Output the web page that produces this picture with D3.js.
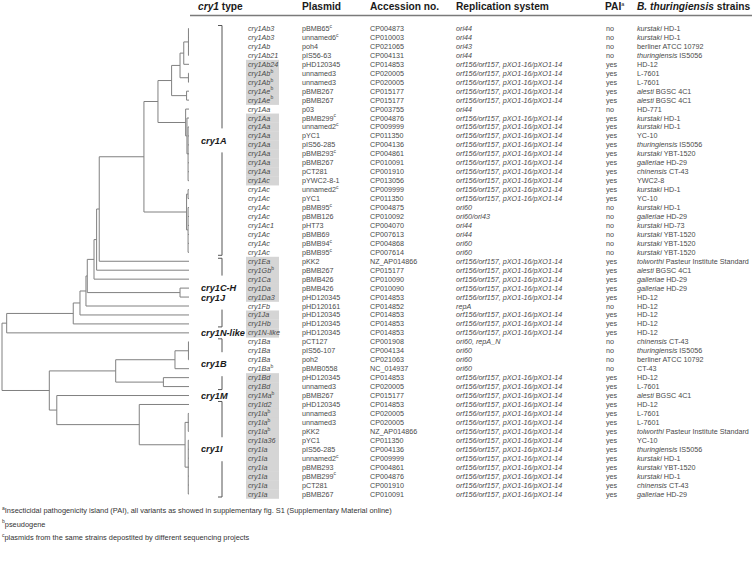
<!DOCTYPE html>
<html><head><meta charset="utf-8">
<script src="https://cdn.jsdelivr.net/npm/d3@7"></script>
<style>
body{margin:0;background:#fff;}
svg{display:block;font-family:"Liberation Sans",Arial,sans-serif;}
</style></head>
<body><svg id="c" width="752" height="570"></svg>
<script>
const ORF = "orf156/orf157, pXO1-16/pXO1-14";
const cry1Types = ["cry1Ab3","cry1Ab3","cry1Ab","cry1Ab21","cry1Ab24","cry1Ab","cry1Ab","cry1Ae","cry1Ae","cry1Aa",
 "cry1Aa","cry1Aa","cry1Aa","cry1Aa","cry1Aa","cry1Aa","cry1Aa","cry1Ac","cry1Ac","cry1Ac",
 "cry1Ac","cry1Ac","cry1Ac1","cry1Ac","cry1Ac","cry1Ac","cry1Ea","cry1Gb","cry1Ca","cry1Da",
 "cry1Da3","cry1Fb","cry1Ja","cry1Hb","cry1N-like","cry1Ba","cry1Ba","cry1Ba","cry1Ba","cry1Bd",
 "cry1Bd","cry1Ma","cry1Id2","cry1Ia","cry1Ia","cry1Ia","cry1Ia36","cry1Ia","cry1Ia","cry1Ia",
 "cry1Ia","cry1Ia","cry1Ia"];
const typeNotes = ["","","","","","b","b","b","b","",
 "","","","","","","","","","",
 "","","","","","","","b","","",
 "","","","","","","","","b","",
 "","b","","b","b","b","","","","",
 "","",""];
const plasmids = ["pBMB65","unnamed6","poh4","pIS56-63","pHD120345","unnamed3","unnamed3","pBMB267","pBMB267","p03",
 "pBMB299","unnamed2","pYC1","pIS56-285","pBMB293","pBMB267","pCT281","pYWC2-8-1","unnamed2","pYC1",
 "pBMB95","pBMB126","pHT73","pBMB69","pBMB94","pBMB95","pKK2","pBMB267","pBMB426","pBMB426",
 "pHD120345","pHD120161","pHD120345","pHD120345","pHD120345","pCT127","pIS56-107","poh2","pBMB0558","pHD120345",
 "unnamed3","pBMB267","pHD120345","unnamed3","unnamed3","pKK2","pYC1","pIS56-285","unnamed2","pBMB293",
 "pBMB299","pCT281","pBMB267"];
const plasmidNotes = ["c","c","","","","","","","","",
 "c","c","","","c","","","","c","",
 "c","","","","c","c","","","","",
 "","","","","","","","","","",
 "","","","","","","","","c","",
 "c","",""];
const accessions = ["CP004873","CP010003","CP021065","CP004131","CP014853","CP020005","CP020005","CP015177","CP015177","CP003755",
 "CP004876","CP009999","CP011350","CP004136","CP004861","CP010091","CP001910","CP013056","CP009999","CP011350",
 "CP004875","CP010092","CP004070","CP007613","CP004868","CP007614","NZ_AP014866","CP015177","CP010090","CP010090",
 "CP014853","CP014852","CP014853","CP014853","CP014853","CP001908","CP004134","CP021063","NC_014937","CP014853",
 "CP020005","CP015177","CP014853","CP020005","CP020005","NZ_AP014866","CP011350","CP004136","CP009999","CP004861",
 "CP004876","CP001910","CP010091"];
const replication = ["ori44","ori44","ori43","ori44",ORF,ORF,ORF,ORF,ORF,"ori44",
 ORF,ORF,ORF,ORF,ORF,ORF,ORF,ORF,ORF,ORF,
 "ori60","ori60/ori43","ori44","ori44","ori60","ori60",ORF,ORF,ORF,ORF,
 ORF,"repA",ORF,ORF,ORF,"ori60, repA_N","ori60","ori60","ori60",ORF,
 ORF,ORF,ORF,ORF,ORF,ORF,ORF,ORF,ORF,ORF,
 ORF,ORF,ORF];
const pai = ["no","no","no","no","yes","yes","yes","yes","yes","no",
 "yes","yes","yes","yes","yes","yes","yes","yes","yes","yes",
 "no","no","no","no","no","no","yes","yes","yes","yes",
 "yes","no","yes","yes","yes","no","no","no","no","yes",
 "yes","yes","yes","yes","yes","yes","yes","yes","yes","yes",
 "yes","yes","yes"];
const strainSubsp = ["kurstaki","kurstaki","","thuringiensis","","","","alesti","alesti","",
 "kurstaki","kurstaki","","thuringiensis","kurstaki","galleriae","chinensis","","kurstaki","",
 "kurstaki","galleriae","kurstaki","kurstaki","kurstaki","kurstaki","tolworthi","alesti","galleriae","galleriae",
 "","","","","","chinensis","thuringiensis","","","",
 "","alesti","","","","tolworthi","","thuringiensis","kurstaki","kurstaki",
 "kurstaki","chinensis","galleriae"];
const strainName = ["HD-1","HD-1","berliner ATCC 10792","IS5056","HD-12","L-7601","L-7601","BGSC 4C1","BGSC 4C1","HD-771",
 "HD-1","HD-1","YC-10","IS5056","YBT-1520","HD-29","CT-43","YWC2-8","HD-1","YC-10",
 "HD-1","HD-29","HD-73","YBT-1520","YBT-1520","YBT-1520","Pasteur Institute Standard","BGSC 4C1","HD-29","HD-29",
 "HD-12","HD-12","HD-12","HD-12","HD-12","CT-43","IS5056","berliner ATCC 10792","CT-43","HD-12",
 "L-7601","BGSC 4C1","HD-12","L-7601","L-7601","Pasteur Institute Standard","YC-10","IS5056","HD-1","YBT-1520",
 "HD-1","CT-43","HD-29"];
// cry gene located in the PAI (shaded cells)
const inPAI = [0,0,0,0,1,1,1,1,1,0, 1,1,1,1,1,1,1,1,0,0, 0,0,0,0,0,0,1,1,1,1,
 1,0,1,1,1,0,0,0,0,1, 1,1,1,1,1,1,1,1,1,1, 1,1,1];

// dendrogram: internal nodes carry divergence d (root 0, tips 100); leaves are row numbers
const tree = {d:0, c:[
  {d:2.5, c:[
    {d:38.1, c:[
      {d:41.7, c:[
        {d:44.9, c:[
          {d:45.6, c:[
            {d:49.2, c:[
              {d:50.6, c:[
                {d:52.0, c:[
                  {d:75.9, c:[
                    {d:83.4, c:[
                      {d:90.7, c:[
                        {d:95.2, c:[
                          {d:97.2, c:[{d:99.7, c:[1,2,3,4]}, 5]},
                          {d:99.7, c:[6,7]}]},
                        {d:98.7, c:[8,9]}]},
                      {d:98.2, c:[10, {d:98.9, c:[11, {d:99.5, c:[12,13,14,15,16,17,18]}]}]}]},
                    {d:98.7, c:[{d:99.5, c:[19,20]}, {d:99.5, c:[21,22,23,24,25,26]}]}]},
                  27]},
                28]},
              29]},
            {d:95.2, c:[30,31]}]},
          32]},
        33]},
      34]},
    35]},
  {d:25.3, c:[
    {d:60.8, c:[
      {d:92.5, c:[{d:99.7, c:[36,37,38]}, 39]},
      {d:86.3, c:[40,41]}]},
    {d:29.3, c:[
      42,
      {d:73.4, c:[43, {d:97.9, c:[{d:99.6, c:[44,45,46]}, {d:99.6, c:[47,48,49,50,51,52,53]}]}]}]}]}]};

const groups = [
  {labels:["cry1A"], from:1, to:26, bracket:true},
  {labels:["cry1C-H","cry1J"], from:27, to:34, bracket:true},
  {labels:["cry1N-like"], from:35, to:35, bracket:false},
  {labels:["cry1B"], from:36, to:41, bracket:true},
  {labels:["cry1M"], from:42, to:42, bracket:false},
  {labels:["cry1I"], from:43, to:53, bracket:true}
];
const footnotes = [
  ["a","Insecticidal pathogenicity island (PAI), all variants as showed in supplementary fig. S1 (Supplementary Material online)"],
  ["b","pseudogene"],
  ["c","plasmids from the same strains depostited by different sequencing projects"]
];

const svg = d3.select("#c");
const N = cry1Types.length;
const y = d3.scaleLinear().domain([1, N]).range([28.5, 494]);
const rowH = y(2) - y(1);
const x = d3.scaleLinear().domain([0, 100]).range([2, 189]);
const col = {type:248, plasmid:302, acc:370, rep:456, pai:606, strain:637};
const TXT = "#4a4a4a", FS = 7.2;

// shading
const sh = svg.append("g");
d3.range(N).forEach(i => {
  if (inPAI[i]) sh.append("rect").attr("x", 246).attr("width", 33)
    .attr("y", y(i+1) - rowH/2).attr("height", rowH + 0.3).attr("fill", "#d5d5d5");
});

// header
const hd = svg.append("g").attr("font-weight","bold").attr("font-size",10.2).attr("fill","#1a1a1a");
const h1 = hd.append("text").attr("x",198).attr("y",10);
h1.append("tspan").attr("font-style","italic").text("cry1");
h1.append("tspan").text(" type");
hd.append("text").attr("x",col.plasmid).attr("y",10).text("Plasmid");
hd.append("text").attr("x",col.acc).attr("y",10).text("Accession no.");
hd.append("text").attr("x",col.rep).attr("y",10).text("Replication system");
const hp = hd.append("text").attr("x",col.pai-1).attr("y",10);
hp.append("tspan").text("PAI");
hp.append("tspan").attr("font-size",5.5).attr("font-weight","normal").attr("dy",-4).text("a");
const hs = hd.append("text").attr("x",col.strain).attr("y",10);
hs.append("tspan").attr("font-style","italic").text("B. thuringiensis");
hs.append("tspan").text(" strains");
svg.append("line").attr("x1",190).attr("x2",752).attr("y1",15.5).attr("y2",15.5)
  .attr("stroke","#7a7a7a").attr("stroke-width",1.6);

// table body
const body = svg.append("g").attr("font-size",FS).attr("fill",TXT);
function supText(xp, yp, main, note, italic) {
  const t = body.append("text").attr("x",xp).attr("y",yp).attr("dy","0.35em");
  if (italic) t.attr("font-style","italic");
  t.append("tspan").text(main);
  if (note) t.append("tspan").attr("font-size",5).attr("dy",-3.2).attr("font-style","normal").text(note);
  return t;
}
d3.range(N).forEach(i => {
  const yy = y(i+1);
  supText(col.type, yy, cry1Types[i], typeNotes[i], true);
  supText(col.plasmid, yy, plasmids[i], plasmidNotes[i], false);
  body.append("text").attr("x",col.acc).attr("y",yy).attr("dy","0.35em").text(accessions[i]);
  body.append("text").attr("x",col.rep).attr("y",yy).attr("dy","0.35em").attr("font-style","italic").text(replication[i]);
  body.append("text").attr("x",col.pai).attr("y",yy).attr("dy","0.35em").text(pai[i]);
  const st = body.append("text").attr("x",col.strain).attr("y",yy).attr("dy","0.35em");
  if (strainSubsp[i]) { st.append("tspan").attr("font-style","italic").text(strainSubsp[i]); st.append("tspan").text(" " + strainName[i]); }
  else st.append("tspan").text(strainName[i]);
});

// dendrogram
const root = d3.hierarchy(tree, d => (typeof d === "object" ? d.c : null));
root.eachAfter(n => {
  if (!n.children) { n.py = y(n.data); n.px = x(100); }
  else { n.py = (n.children[0].py + n.children[n.children.length-1].py) / 2; n.px = x(n.data.d); }
});
const tg = svg.append("g").attr("stroke","#808080").attr("stroke-width",1).attr("fill","none");
root.each(n => {
  if (!n.children) return;
  const c0 = n.children[0], c1 = n.children[n.children.length-1];
  tg.append("line").attr("x1",n.px).attr("x2",n.px).attr("y1",c0.py).attr("y2",c1.py);
  n.children.forEach(c => tg.append("line").attr("x1",n.px).attr("x2",c.px).attr("y1",c.py).attr("y2",c.py));
});

// group labels and brackets
const gg = svg.append("g");
const bx = 222;
groups.forEach(g => {
  const top = y(g.from) - 3, bot = y(g.to) + 3, mid = (y(g.from) + y(g.to)) / 2;
  const nl = g.labels.length, lh = 10;
  g.labels.forEach((l, k) => {
    gg.append("text").attr("x",201).attr("y", mid + (k - (nl-1)/2) * lh).attr("dy","0.35em")
      .attr("font-size",9.2).attr("font-weight","bold").attr("font-style","italic").attr("fill","#1a1a1a").text(l);
  });
  if (g.bracket) {
    const gap = nl * lh / 2 + 7;
    const p = d3.path();
    p.moveTo(bx-4, top); p.lineTo(bx, top); p.lineTo(bx, mid - gap);
    p.moveTo(bx, mid + gap); p.lineTo(bx, bot); p.lineTo(bx-4, bot);
    gg.append("path").attr("d", p.toString()).attr("fill","none").attr("stroke","#555").attr("stroke-width",1);
  }
});

// footnotes
const fn = svg.append("g").attr("font-size",7.4).attr("fill","#333");
footnotes.forEach((f, k) => {
  const t = fn.append("text").attr("x",2).attr("y", 513 + k*13.5);
  t.append("tspan").attr("font-size",5).attr("dy",-3.2).text(f[0]);
  t.append("tspan").attr("dy",3.2).text(f[1]);
});
</script></body></html>
